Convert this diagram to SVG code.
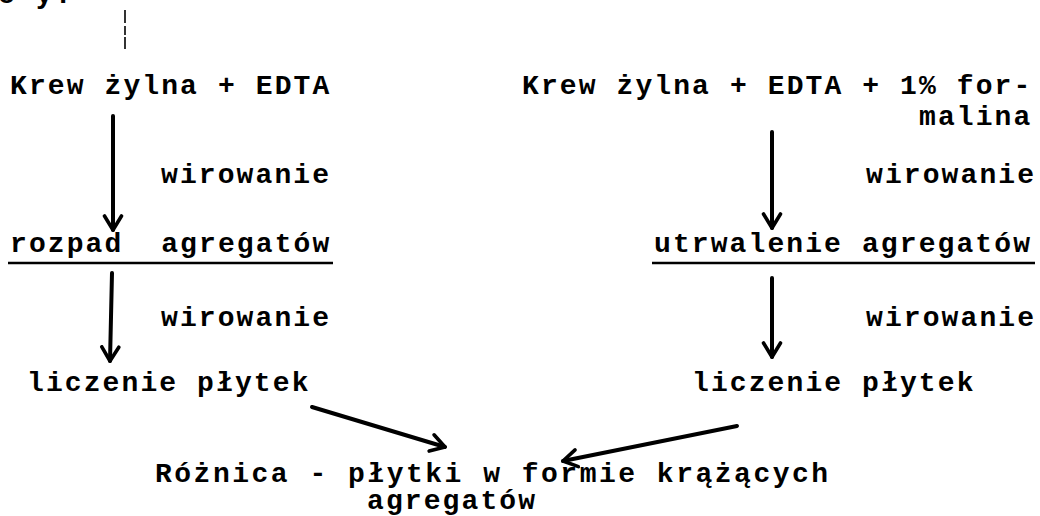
<svg xmlns="http://www.w3.org/2000/svg" width="1040" height="516" viewBox="0 0 1040 516">
  <style>
    text { font-family: "Liberation Mono", "Courier New", monospace; font-size: 28px; font-weight: bold; letter-spacing: 2.1px; fill: #000; white-space: pre; }
    text.wide { letter-spacing: 2.5px; }
    .shaft { stroke: #000; stroke-width: 4; fill: none; stroke-linecap: round; }
    .thin { stroke: #000; stroke-width: 1.6; fill: none; stroke-dasharray: 13 3 9 2; }
    .rule { stroke: #000; stroke-width: 2.6; }
  </style>
  <defs>
    <!-- open V head, as typed/inked by hand -->
    <marker id="head" markerUnits="userSpaceOnUse" viewBox="-16 -12 20 24" markerWidth="20" markerHeight="24" refX="0" refY="0" orient="auto">
      <path d="M-14,-8.5 L0,0 L-14,8.5" fill="none" stroke="#000" stroke-width="3.6" stroke-linecap="round" stroke-linejoin="round"/>
    </marker>
  </defs>
  <rect width="1040" height="516" fill="#fff"/>

  <!-- tail of the line above, cut by the top edge -->
  <text x="-2" y="3">e y.</text>

  <g id="conn">
    <line class="thin" x1="125" y1="10" x2="125" y2="49"/>
    <line class="shaft" x1="113" y1="116" x2="113" y2="230" marker-end="url(#head)"/>
    <line class="shaft" x1="112" y1="273" x2="110" y2="361" marker-end="url(#head)"/>
    <line class="shaft" x1="772" y1="132" x2="772" y2="228" marker-end="url(#head)"/>
    <line class="shaft" x1="772" y1="278" x2="772" y2="357" marker-end="url(#head)"/>
    <line class="shaft" x1="312" y1="407" x2="445" y2="447" marker-end="url(#head)"/>
    <line class="shaft" x1="737" y1="426" x2="563" y2="461" marker-end="url(#head)"/>
  </g>

  <g id="krew-edta">
    <text x="10" y="94">Krew żylna + EDTA</text>
  </g>
  <g id="krew-edta-formalina">
    <text x="522" y="94">Krew żylna + EDTA + 1% for-</text>
    <text x="919" y="125">malina</text>
  </g>
  <g id="wirowanie-l1"><text x="161" y="183">wirowanie</text></g>
  <g id="wirowanie-r1"><text x="866" y="183">wirowanie</text></g>
  <g id="rozpad">
    <text x="10" y="252">rozpad  agregatów</text>
    <line class="rule" x1="8" y1="263" x2="333" y2="263"/>
  </g>
  <g id="utrwalenie">
    <text x="654" y="252">utrwalenie agregatów</text>
    <line class="rule" x1="652" y1="263" x2="1035" y2="263"/>
  </g>
  <g id="wirowanie-l2"><text x="161" y="326">wirowanie</text></g>
  <g id="wirowanie-r2"><text x="866" y="326">wirowanie</text></g>
  <g id="liczenie-l"><text x="27" y="391">liczenie płytek</text></g>
  <g id="liczenie-r"><text x="692" y="391">liczenie płytek</text></g>
  <g id="roznica">
    <text class="wide" x="155" y="482">Różnica - płytki w formie krążących</text>
    <text x="367" y="509">agregatów</text>
  </g>
</svg>
